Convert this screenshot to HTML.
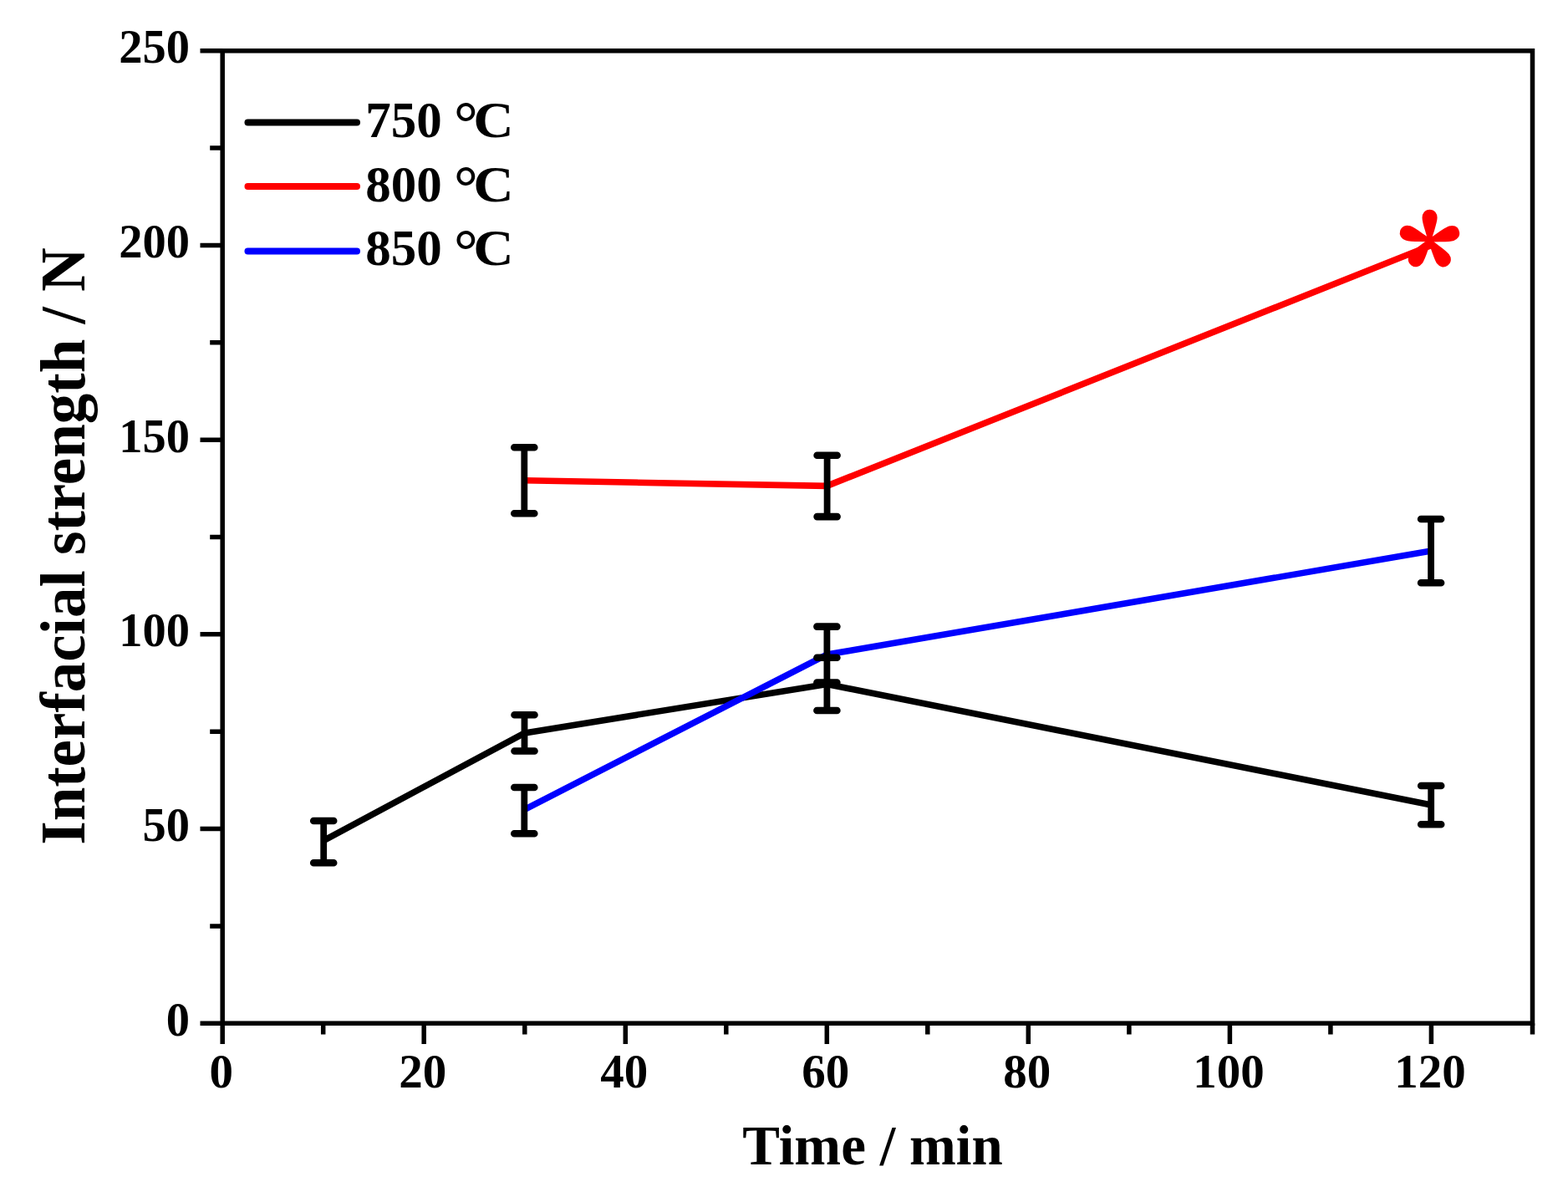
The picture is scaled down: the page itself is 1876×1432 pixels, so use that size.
<!DOCTYPE html><html><head><meta charset="utf-8"><style>html,body{margin:0;padding:0;background:#fff;}svg{display:block;filter:blur(0.45px);}text{font-family:"Liberation Serif","Times New Roman",serif;font-weight:bold;fill:#000;}</style></head><body>
<svg width="1876" height="1432" viewBox="0 0 1876 1432">
<rect width="1876" height="1432" fill="#fff"/>
<polyline fill="none" stroke="#000" stroke-width="7.6" stroke-linejoin="round" points="386.7,1005.8 627.8,876.9 989.3,818.4 1712.4,963.1"/>
<polyline fill="none" stroke="#f00" stroke-width="7.6" stroke-linejoin="round" points="627.8,574.8 989.3,581.4 1712.4,293.5"/>
<polyline fill="none" stroke="#00f" stroke-width="7.6" stroke-linejoin="round" points="627.8,968.3 989.3,783.1 1712.4,659.1"/>
<path fill="none" stroke="#000" stroke-width="7.8" d="M387.2 982.0V1032.3M627.5 855.2V898.5M989.4 786.7V850.0M1712.2 940.0V986.2M627.3 535.2V614.3M989.6 544.7V618.1M627.3 942.0V997.3M989.4 749.6V816.6M1712.1 621.0V697.2"/>
<path fill="none" stroke="#000" stroke-width="8.6" stroke-linecap="round" d="M375.2 982.0H399.2M375.2 1032.3H399.2M615.5 855.2H639.5M615.5 898.5H639.5M977.4 786.7H1001.4M977.4 850.0H1001.4M1700.2 940.0H1724.2M1700.2 986.2H1724.2M615.3 535.2H639.3M615.3 614.3H639.3M977.6 544.7H1001.6M977.6 618.1H1001.6M615.3 942.0H639.3M615.3 997.3H639.3M977.4 749.6H1001.4M977.4 816.6H1001.4M1700.1 621.0H1724.1M1700.1 697.2H1724.1"/>
<text x="1710.5" y="378" font-size="151" text-anchor="middle" style="fill:#f00;stroke:#f00;stroke-width:2.2;stroke-linejoin:round;font-family:'Noto Serif CJK SC','Noto Serif CJK JP',serif;font-weight:900">*</text>
<rect x="266.2" y="60.8" width="1567.3" height="1163.4" fill="none" stroke="#000" stroke-width="5.5"/>
<path fill="none" stroke="#000" stroke-width="5.5" d="M239.5 1224.2H266.2M251.2 1107.9H266.2M239.5 991.5H266.2M251.2 875.2H266.2M239.5 758.8H266.2M251.2 642.5H266.2M239.5 526.2H266.2M251.2 409.8H266.2M239.5 293.5H266.2M251.2 177.1H266.2M239.5 60.8H266.2M266.2 1224.2V1249.0M386.7 1224.2V1237.5M507.2 1224.2V1249.0M627.8 1224.2V1237.5M748.3 1224.2V1249.0M868.8 1224.2V1237.5M989.3 1224.2V1249.0M1109.8 1224.2V1237.5M1230.3 1224.2V1249.0M1350.9 1224.2V1237.5M1471.4 1224.2V1249.0M1591.9 1224.2V1237.5M1712.4 1224.2V1249.0M1833.5 1224.2V1237.5"/>
<text x="227" y="1238.7" font-size="56.5" text-anchor="end">0</text>
<text x="227" y="1006.0" font-size="56.5" text-anchor="end">50</text>
<text x="227" y="773.3" font-size="56.5" text-anchor="end">100</text>
<text x="227" y="540.7" font-size="56.5" text-anchor="end">150</text>
<text x="227" y="308.0" font-size="56.5" text-anchor="end">200</text>
<text x="227" y="75.3" font-size="56.5" text-anchor="end">250</text>
<text x="264.7" y="1301" font-size="57" text-anchor="middle">0</text>
<text x="505.7" y="1301" font-size="57" text-anchor="middle">20</text>
<text x="746.8" y="1301" font-size="57" text-anchor="middle">40</text>
<text x="987.8" y="1301" font-size="57" text-anchor="middle">60</text>
<text x="1228.8" y="1301" font-size="57" text-anchor="middle">80</text>
<text x="1469.9" y="1301" font-size="57" text-anchor="middle">100</text>
<text x="1710.9" y="1301" font-size="57" text-anchor="middle">120</text>
<text x="1044" y="1393.3" font-size="67" text-anchor="middle">Time / min</text>
<text transform="translate(101.2,653.5) rotate(-90) scale(0.961,1)" x="0" y="0" font-size="76" text-anchor="middle">Interfacial strength / N</text>
<line x1="296.5" y1="146.5" x2="427" y2="146.5" stroke="#000" stroke-width="8" stroke-linecap="round"/>
<text x="437.3" y="164.0" font-size="61">750 <tspan x="543" y="170.9" font-size="72">°</tspan><tspan x="566.2" y="163.7" font-size="61" textLength="48.4" lengthAdjust="spacingAndGlyphs">C</tspan></text>
<line x1="296.5" y1="223.0" x2="427" y2="223.0" stroke="#f00" stroke-width="8" stroke-linecap="round"/>
<text x="437.3" y="240.8" font-size="61">800 <tspan x="543" y="247.7" font-size="72">°</tspan><tspan x="566.2" y="240.5" font-size="61" textLength="48.4" lengthAdjust="spacingAndGlyphs">C</tspan></text>
<line x1="296.5" y1="300.5" x2="427" y2="300.5" stroke="#00f" stroke-width="8" stroke-linecap="round"/>
<text x="437.3" y="317.3" font-size="61">850 <tspan x="543" y="324.2" font-size="72">°</tspan><tspan x="566.2" y="317.0" font-size="61" textLength="48.4" lengthAdjust="spacingAndGlyphs">C</tspan></text>
</svg></body></html>
